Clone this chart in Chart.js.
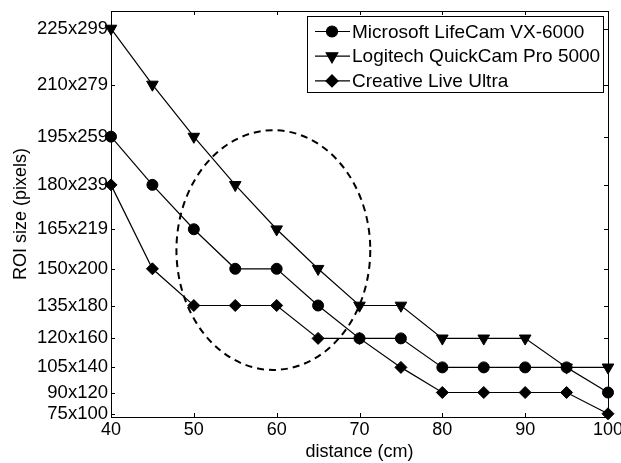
<!DOCTYPE html>
<html>
<head>
<meta charset="utf-8">
<title>ROI size vs distance</title>
<script src="https://cdn.jsdelivr.net/npm/chart.js@4/dist/chart.umd.min.js"></script>
<style>
  html, body { margin: 0; padding: 0; background: #fff; }
  #wrap { width: 621px; height: 463px; }
</style>
</head>
<body>
<div id="wrap"><canvas id="roiChart"></canvas></div>
<script>
// distance from the camera (cm)
const distances = [40, 45, 50, 55, 60, 65, 70, 75, 80, 85, 90, 95, 100];

// ROI sizes shown on the y axis (axis is linear in area = w*h)
const roiTicks = ['75x100', '90x120', '105x140', '120x160', '135x180', '150x200',
                  '165x219', '180x239', '195x259', '210x279', '225x299'];

const lifeCam = ['195x259', '180x239', '165x219', '150x200', '150x200', '135x180', '120x160',
                 '120x160', '105x140', '105x140', '105x140', '105x140', '90x120'];
const quickCam = ['225x299', '210x279', '195x259', '180x239', '165x219', '150x200', '135x180',
                  '135x180', '120x160', '120x160', '120x160', '105x140', '105x140'];
const liveUltra = ['180x239', '150x200', '135x180', '135x180', '135x180', '120x160', '120x160',
                   '105x140', '90x120', '90x120', '90x120', '90x120', '75x100'];

// dashed ellipse around the 50-70 cm region (data units)
const ringCenter = { x: 59.6, y: 32900 };
const ringRadius = { x: 11.7, y: 18600 };

function area(size) {
  const [w, h] = size.split('x').map(Number);
  return w * h;
}

function toPoints(sizes) {
  return sizes.map((s, i) => ({ x: distances[i], y: area(s) }));
}

const FONT = "'Liberation Sans', Arial, Helvetica, sans-serif";
const tickLabelByArea = {};
roiTicks.forEach(s => { tickLabelByArea[area(s)] = s; });

function series(label, sizes, style, radius, rotation) {
  return {
    label: label,
    data: toPoints(sizes),
    showLine: true,
    borderColor: '#000',
    borderWidth: 1.2,
    backgroundColor: '#000',
    pointBackgroundColor: '#000',
    pointBorderColor: '#000',
    pointBorderWidth: 1,
    pointStyle: style,
    pointRadius: radius,
    pointRotation: rotation || 0,
    tension: 0,
    clip: false
  };
}

// box around the plot with matlab style inward ticks
const frame = {
  id: 'frame',
  beforeDatasetsDraw(chart) {
    const { ctx, chartArea: a, scales } = chart;
    ctx.save();
    ctx.strokeStyle = '#000';
    ctx.lineWidth = 1;
    ctx.strokeRect(a.left + 0.5, a.top + 0.5, a.right - a.left, a.bottom - a.top);
    const len = 4;
    ctx.beginPath();
    scales.x.ticks.forEach(t => {
      const px = Math.round(scales.x.getPixelForValue(t.value)) + 0.5;
      ctx.moveTo(px, a.bottom); ctx.lineTo(px, a.bottom - len);
      ctx.moveTo(px, a.top); ctx.lineTo(px, a.top + len);
    });
    scales.y.ticks.forEach(t => {
      const py = Math.round(scales.y.getPixelForValue(t.value)) + 0.5;
      ctx.moveTo(a.left, py); ctx.lineTo(a.left + len, py);
      ctx.moveTo(a.right, py); ctx.lineTo(a.right - len, py);
    });
    ctx.stroke();
    ctx.restore();
  }
};

const ring = {
  id: 'ring',
  afterDatasetsDraw(chart) {
    const { ctx, scales } = chart;
    const cx = scales.x.getPixelForValue(ringCenter.x);
    const cy = scales.y.getPixelForValue(ringCenter.y);
    const rx = scales.x.getPixelForValue(ringCenter.x + ringRadius.x) - cx;
    const ry = cy - scales.y.getPixelForValue(ringCenter.y + ringRadius.y);
    ctx.save();
    ctx.strokeStyle = '#000';
    ctx.lineWidth = 2;
    ctx.setLineDash([7, 5]);
    ctx.beginPath();
    ctx.ellipse(cx, cy, rx, ry, 0, 0, Math.PI * 2);
    ctx.stroke();
    ctx.restore();
  }
};

// legend box in the upper right corner, line through marker
const boxLegend = {
  id: 'boxLegend',
  afterDraw(chart) {
    const { ctx, chartArea: a } = chart;
    const sets = chart.data.datasets;
    const right = a.right - 5, top = a.top + 5;
    const w = 296, rowH = 24.7, h = 76;
    const left = right - w;
    ctx.save();
    ctx.fillStyle = '#fff';
    ctx.fillRect(left, top, w, h);
    ctx.strokeStyle = '#000';
    ctx.lineWidth = 1;
    ctx.strokeRect(left + 0.5, top + 0.5, w, h);
    ctx.font = '19px ' + FONT;
    ctx.textBaseline = 'middle';
    sets.forEach((ds, i) => {
      const y = top + 15.5 + i * rowH;
      ctx.strokeStyle = '#000';
      ctx.lineWidth = 1.2;
      ctx.beginPath();
      ctx.moveTo(left + 8, y);
      ctx.lineTo(left + 43, y);
      ctx.stroke();
      ctx.fillStyle = '#000';
      Chart.helpers.drawPoint(ctx, {
        pointStyle: ds.pointStyle, radius: ds.pointRadius,
        rotation: ds.pointRotation, borderWidth: 1
      }, left + 25, y);
      ctx.fillStyle = '#000';
      ctx.fillText(ds.label, left + 45, y + 1);
    });
    ctx.restore();
  }
};

new Chart(document.getElementById('roiChart'), {
  type: 'scatter',
  data: {
    datasets: [
      series('Microsoft LifeCam VX-6000', lifeCam, 'circle', 5.5),
      series('Logitech QuickCam Pro 5000', quickCam, 'triangle', 6.7, 180),
      series('Creative Live Ultra', liveUltra, 'rectRot', 6)
    ]
  },
  options: {
    responsive: true,
    maintainAspectRatio: false,
    animation: false,
    devicePixelRatio: 1,
    layout: { padding: { top: 11, right: 13, left: 0, bottom: 0 } },
    plugins: {
      legend: { display: false },
      tooltip: { enabled: false }
    },
    scales: {
      x: {
        type: 'linear',
        min: 40,
        max: 100,
        grid: { display: false, drawTicks: false },
        border: { display: false },
        ticks: {
          stepSize: 10,
          color: '#000',
          padding: 2,
          maxRotation: 0,
          font: { family: FONT, size: 18 }
        },
        title: {
          display: true,
          text: 'distance (cm)',
          color: '#000',
          padding: { top: -2, bottom: 0 },
          font: { family: FONT, size: 18 }
        },
        afterFit(scale) {
          scale.height = 46;
          scale.paddingLeft = 0;
          scale.paddingRight = 0;
        }
      },
      y: {
        type: 'linear',
        min: 7000,
        max: 70000,
        grid: { display: false, drawTicks: false },
        border: { display: false },
        afterBuildTicks(scale) {
          scale.ticks = roiTicks.map(s => ({ value: area(s) }));
        },
        ticks: {
          color: '#000',
          padding: 3,
          autoSkip: false,
          font: { family: FONT, size: 18.5 },
          callback: v => tickLabelByArea[v] || ''
        },
        title: {
          display: true,
          text: 'ROI size (pixels)',
          color: '#000',
          padding: { top: 10, bottom: 0 },
          font: { family: FONT, size: 18 }
        },
        afterFit(scale) {
          scale.width = 111;
          scale.paddingTop = 0;
          scale.paddingBottom = 0;
        }
      }
    }
  },
  plugins: [frame, ring, boxLegend]
});
</script>
</body>
</html>
